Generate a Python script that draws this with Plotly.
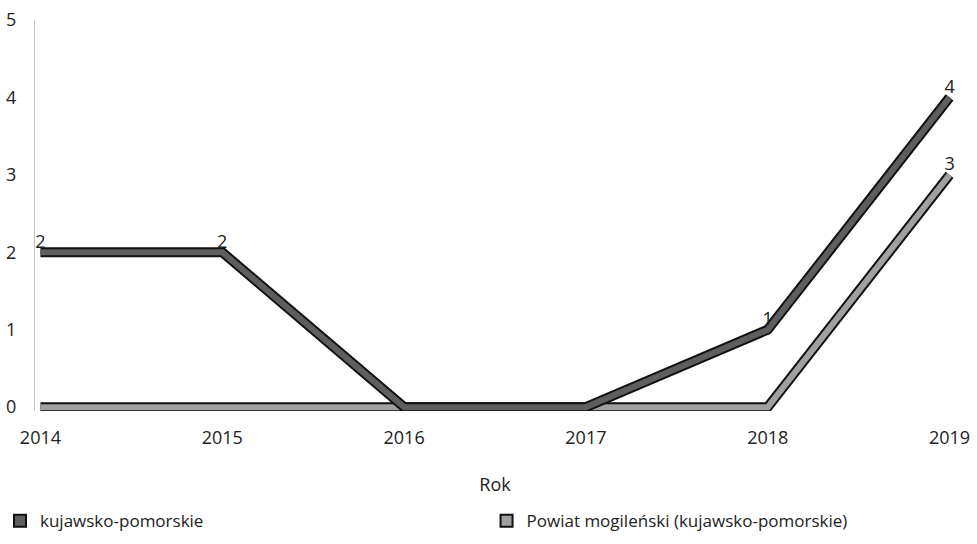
import plotly.graph_objects as go

years = [2014, 2015, 2016, 2017, 2018, 2019]
kujawsko = [2, 2, 0, 0, 1, 4]
mogilenski = [0, 0, 0, 0, 0, 3]
series_names = ["kujawsko-pomorskie", "Powiat mogileński (kujawsko-pomorskie)"]
y_ticks = [0, 1, 2, 3, 4, 5]

FONT = "Open Sans, Noto Sans, sans-serif"
fill_colors = ["#5e5e5e", "#a0a0a0"]

fig = go.Figure()
for name, vals, col in [(series_names[1], mogilenski, fill_colors[1]),
                        (series_names[0], kujawsko, fill_colors[0])]:
    # dark outline
    fig.add_trace(go.Scatter(x=years, y=vals, mode="lines", showlegend=False,
                             line=dict(color="#111111", width=10), hoverinfo="skip"))
    # inner fill + labels
    fig.add_trace(go.Scatter(x=years, y=vals, mode="lines+text", showlegend=False,
                             line=dict(color=col, width=6), name=name,
                             text=[str(v) if v > 0 else "" for v in vals],
                             textposition="top center",
                             textfont=dict(family=FONT, size=18, color="#222222"),
                             cliponaxis=False))

for name, col, lg in zip(series_names, fill_colors, ["legend", "legend2"]):
    fig.add_trace(go.Scatter(x=[None], y=[None], mode="markers", name=name, legend=lg,
                             marker=dict(symbol="square", size=10, color=col,
                                         line=dict(color="#111111", width=1.5))))

legend_common = dict(orientation="h", xref="container", yref="container",
                     xanchor="left", y=0.042, yanchor="middle",
                     font=dict(size=17), itemsizing="constant", bgcolor="rgba(0,0,0,0)")

fig.update_layout(
    width=977, height=544,
    margin=dict(l=35, r=22, t=20, b=133),
    paper_bgcolor="white", plot_bgcolor="white",
    font=dict(family=FONT, size=18, color="#222222"),
    xaxis=dict(range=[2013.97, 2019.03], tickvals=years, showgrid=False,
               zeroline=False, showline=False, ticks="", automargin=False,
               ticklabelstandoff=14,
               title=dict(text="Rok", standoff=30, font=dict(size=18))),
    yaxis=dict(range=[-0.05, 5.0], tickvals=y_ticks, showgrid=False,
               zeroline=False, showline=True, linecolor="#c8c8c8",
               linewidth=1, ticks="", ticklabelstandoff=14, automargin=False),
    legend=dict(x=0.0, **legend_common),
    legend2=dict(x=0.498, **legend_common),
)

fig.write_html("out.html", config={"displayModeBar": False},
               post_script="document.body.style.margin='0';")
